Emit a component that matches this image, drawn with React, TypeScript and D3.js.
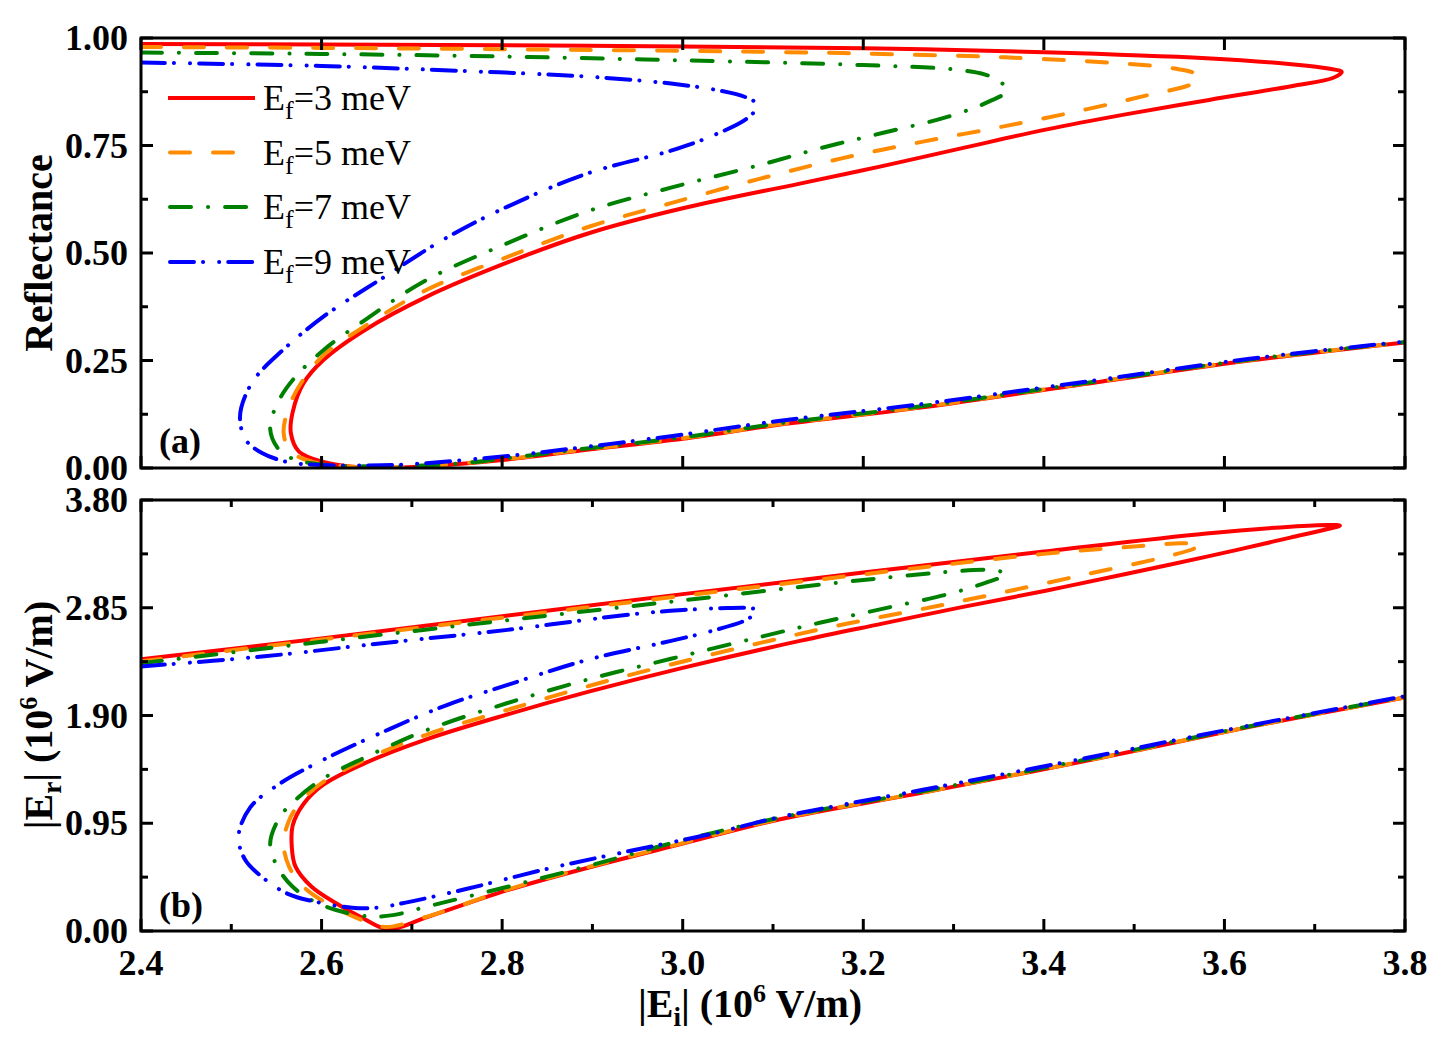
import * as d3 from 'd3';

// tick values
const xTicks = [2.4, 2.6, 2.8, 3.0, 3.2, 3.4, 3.6, 3.8];
const xMinorTicks = [2.5, 2.7, 2.9, 3.1, 3.3, 3.5, 3.7];
const reflTicks = [0, 0.25, 0.5, 0.75, 1.0];
const reflMinorTicks = [0.125, 0.375, 0.625, 0.875];
const erTicks = [0, 0.95, 1.9, 2.85, 3.8];
const erMinorTicks = [0.475, 1.425, 2.375, 3.325];

const fermiLevels = [3, 5, 7, 9]; // meV

// (a) reflectance vs |Ei|, points follow each curve along its path
const reflEf3: [number, number][] = [
  [2.4, 0.986], [2.6, 0.985], [2.8, 0.983], [3.0, 0.98], [3.2, 0.976], [3.4, 0.967],
  [3.58, 0.953], [3.68, 0.938], [3.715, 0.929], [3.73, 0.921], [3.72, 0.907], [3.674, 0.888],
  [3.583, 0.856], [3.492, 0.823], [3.402, 0.787], [3.312, 0.745], [3.221, 0.702], [3.131, 0.662],
  [3.0, 0.604], [2.896, 0.546], [2.806, 0.478], [2.716, 0.398], [2.648, 0.321], [2.602, 0.251],
  [2.58, 0.197], [2.568, 0.13], [2.566, 0.081], [2.575, 0.038], [2.602, 0.014], [2.634, 0.003],
  [2.67, 0.0], [2.716, 0.004], [2.806, 0.02], [2.896, 0.043], [3.0, 0.068], [3.108, 0.101],
  [3.266, 0.141], [3.447, 0.196], [3.628, 0.25], [3.8, 0.292],
];
const reflEf5: [number, number][] = [
  [2.4, 0.979], [2.6, 0.977], [2.8, 0.974], [3.086, 0.968], [3.221, 0.963], [3.357, 0.955],
  [3.492, 0.94], [3.545, 0.929], [3.568, 0.917], [3.572, 0.905], [3.562, 0.891], [3.515, 0.867],
  [3.447, 0.834], [3.357, 0.795], [3.266, 0.759], [3.176, 0.72], [3.086, 0.673], [2.987, 0.616],
  [2.896, 0.561], [2.806, 0.491], [2.716, 0.414], [2.648, 0.33], [2.602, 0.262], [2.578, 0.2],
  [2.564, 0.143], [2.558, 0.081], [2.566, 0.038], [2.589, 0.015], [2.625, 0.004], [2.67, 0.001],
  [2.716, 0.004], [2.806, 0.021], [2.896, 0.044], [3.0, 0.069], [3.108, 0.102], [3.266, 0.142],
  [3.447, 0.197], [3.628, 0.251], [3.8, 0.292],
];
const reflEf7: [number, number][] = [
  [2.4, 0.966], [2.6, 0.963], [2.8, 0.957], [3.0, 0.948], [3.2, 0.937], [3.3, 0.927],
  [3.335, 0.915], [3.352, 0.898], [3.359, 0.877], [3.339, 0.852], [3.294, 0.817], [3.221, 0.779],
  [3.153, 0.744], [3.086, 0.705], [2.987, 0.652], [2.896, 0.598], [2.806, 0.523], [2.716, 0.437],
  [2.648, 0.344], [2.602, 0.274], [2.571, 0.212], [2.553, 0.158], [2.543, 0.093], [2.553, 0.042],
  [2.571, 0.019], [2.589, 0.011], [2.625, 0.005], [2.68, 0.004], [2.75, 0.01], [2.806, 0.023],
  [2.896, 0.046], [3.0, 0.071], [3.108, 0.104], [3.266, 0.144], [3.447, 0.198], [3.628, 0.252],
  [3.8, 0.293],
];
const reflEf9: [number, number][] = [
  [2.4, 0.943], [2.6, 0.935], [2.75, 0.924], [2.896, 0.91], [2.987, 0.894], [3.04, 0.878],
  [3.07, 0.862], [3.083, 0.844], [3.072, 0.814], [3.031, 0.771], [2.987, 0.738], [2.896, 0.686],
  [2.806, 0.608], [2.738, 0.535], [2.67, 0.445], [2.602, 0.352], [2.557, 0.274], [2.525, 0.205],
  [2.511, 0.14], [2.51, 0.105], [2.516, 0.065], [2.534, 0.035], [2.562, 0.014], [2.6, 0.007],
  [2.65, 0.006], [2.7, 0.009], [2.806, 0.028], [2.896, 0.05], [2.987, 0.074], [3.108, 0.11],
  [3.266, 0.149], [3.447, 0.201], [3.628, 0.254], [3.8, 0.294],
];

// (b) |Er| vs |Ei| (10^6 V/m)
const erEf3: [number, number][] = [
  [2.4, 2.395], [2.6, 2.58], [2.8, 2.775], [3.0, 2.97], [3.2, 3.16], [3.4, 3.345],
  [3.58, 3.505], [3.673, 3.565], [3.715, 3.58], [3.728, 3.574], [3.712, 3.54], [3.673, 3.468],
  [3.583, 3.305], [3.492, 3.15], [3.402, 3.0], [3.312, 2.86], [3.221, 2.71], [3.131, 2.56],
  [3.0, 2.32], [2.896, 2.11], [2.806, 1.91], [2.716, 1.69], [2.648, 1.48], [2.602, 1.29],
  [2.58, 1.12], [2.568, 0.93], [2.567, 0.745], [2.571, 0.57], [2.589, 0.39], [2.616, 0.245],
  [2.643, 0.125], [2.674, 0.015], [2.716, 0.12], [2.806, 0.36], [2.896, 0.56], [3.0, 0.77],
  [3.108, 0.985], [3.266, 1.22], [3.447, 1.5], [3.628, 1.8], [3.8, 2.06],
];
const erEf5: [number, number][] = [
  [2.4, 2.378], [2.6, 2.57], [2.8, 2.762], [3.0, 2.955], [3.2, 3.145], [3.4, 3.325],
  [3.5, 3.39], [3.552, 3.418], [3.574, 3.405], [3.566, 3.37], [3.53, 3.29], [3.45, 3.15],
  [3.357, 2.99], [3.266, 2.84], [3.176, 2.7], [3.086, 2.54], [2.987, 2.35], [2.896, 2.16],
  [2.806, 1.95], [2.716, 1.73], [2.648, 1.51], [2.602, 1.315], [2.578, 1.15], [2.564, 0.975],
  [2.558, 0.77], [2.564, 0.567], [2.58, 0.39], [2.606, 0.244], [2.64, 0.112], [2.67, 0.035],
  [2.716, 0.125], [2.806, 0.365], [2.896, 0.565], [3.0, 0.775], [3.108, 0.99], [3.266, 1.222],
  [3.447, 1.502], [3.628, 1.8], [3.8, 2.06],
];
const erEf7: [number, number][] = [
  [2.4, 2.36], [2.6, 2.55], [2.8, 2.735], [3.0, 2.915], [3.2, 3.095], [3.3, 3.17],
  [3.335, 3.184], [3.352, 3.17], [3.358, 3.142], [3.339, 3.08], [3.294, 2.97], [3.221, 2.84],
  [3.153, 2.72], [3.086, 2.593], [2.987, 2.4], [2.896, 2.22], [2.806, 2.01], [2.716, 1.77],
  [2.648, 1.53], [2.602, 1.345], [2.571, 1.155], [2.553, 0.995], [2.543, 0.76], [2.553, 0.54],
  [2.568, 0.39], [2.589, 0.272], [2.616, 0.185], [2.652, 0.128], [2.679, 0.14], [2.716, 0.214],
  [2.806, 0.39], [2.896, 0.575], [3.0, 0.8], [3.108, 1.0], [3.266, 1.232], [3.447, 1.512],
  [3.628, 1.805], [3.8, 2.065],
];
const erEf9: [number, number][] = [
  [2.4, 2.333], [2.534, 2.42], [2.67, 2.54], [2.806, 2.655], [2.941, 2.79], [3.0, 2.83],
  [3.05, 2.848], [3.075, 2.846], [3.083, 2.83], [3.072, 2.75], [3.031, 2.643], [2.987, 2.558],
  [2.896, 2.394], [2.806, 2.17], [2.738, 1.99], [2.67, 1.762], [2.602, 1.51], [2.552, 1.29],
  [2.521, 1.09], [2.508, 0.835], [2.515, 0.633], [2.534, 0.477], [2.562, 0.33], [2.598, 0.25],
  [2.634, 0.205], [2.661, 0.205], [2.693, 0.25], [2.76, 0.37], [2.851, 0.55], [2.941, 0.705],
  [3.031, 0.855], [3.108, 1.005], [3.266, 1.245], [3.447, 1.525], [3.628, 1.812], [3.8, 2.07],
];

const reflData = [reflEf3, reflEf5, reflEf7, reflEf9];
const erData = [erEf3, erEf5, erEf7, erEf9];

const colors = ['#ff0000', '#ff8c00', '#008000', '#0000ff'];
const dashes = ['none', '20,23', '21,17,0.1,17', '24,9,0.1,16,0.1,9'];

const FONT = '"Liberation Serif", "Times New Roman", serif';

const W = 1444;
const H = 1048;
const left = 141;
const right = 1405;
const topA = 38;
const bottomA = 468;
const topB = 500;
const bottomB = 931;

const x = d3.scaleLinear().domain([2.4, 3.8]).range([left, right]);
const yA = d3.scaleLinear().domain([0, 1]).range([bottomA, topA]);
const yB = d3.scaleLinear().domain([0, 3.8]).range([bottomB, topB]);

function Panel({
  y,
  data,
  yTicks,
  yMinor,
  fmt,
  xMinor,
  id,
}: {
  y: d3.ScaleLinear<number, number>;
  data: [number, number][][];
  yTicks: number[];
  yMinor: number[];
  fmt: (v: number) => string;
  xMinor: boolean;
  id: string;
}) {
  const [y0, y1] = y.range();
  const line = d3
    .line<[number, number]>()
    .x((d) => x(d[0]))
    .y((d) => y(d[1]))
    .curve(d3.curveCatmullRom.alpha(0.5));
  const major = 12;
  const minor = 7;
  return (
    <g>
      <defs>
        <clipPath id={id}>
          <rect x={left} y={y1} width={right - left} height={y0 - y1} />
        </clipPath>
      </defs>
      <g clipPath={`url(#${id})`}>
        {data.map((d, i) => (
          <path
            key={i}
            d={line(d) ?? ''}
            fill="none"
            stroke={colors[i]}
            strokeWidth={4}
            strokeDasharray={dashes[i]}
            strokeLinecap={dashes[i] === 'none' ? 'butt' : 'round'}
            strokeLinejoin="round"
          />
        ))}
      </g>
      <g stroke="#000" strokeWidth={3}>
        {xTicks.map((t) => (
          <g key={`x${t}`}>
            <line x1={x(t)} x2={x(t)} y1={y0} y2={y0 - major} />
            <line x1={x(t)} x2={x(t)} y1={y1} y2={y1 + major} />
          </g>
        ))}
        {xMinor &&
          xMinorTicks.map((t) => (
            <g key={`xm${t}`}>
              <line x1={x(t)} x2={x(t)} y1={y0} y2={y0 - minor} />
              <line x1={x(t)} x2={x(t)} y1={y1} y2={y1 + minor} />
            </g>
          ))}
        {yTicks.map((t) => (
          <g key={`y${t}`}>
            <line x1={left} x2={left + major} y1={y(t)} y2={y(t)} />
            <line x1={right} x2={right - major} y1={y(t)} y2={y(t)} />
          </g>
        ))}
        {yMinor.map((t) => (
          <g key={`ym${t}`}>
            <line x1={left} x2={left + minor} y1={y(t)} y2={y(t)} />
            <line x1={right} x2={right - minor} y1={y(t)} y2={y(t)} />
          </g>
        ))}
        <rect x={left} y={y1} width={right - left} height={y0 - y1} fill="none" />
      </g>
      {yTicks.map((t) => (
        <text
          key={`yl${t}`}
          x={128}
          y={y(t) + 12}
          textAnchor="end"
          fontFamily={FONT}
          fontWeight="bold"
          fontSize={36}
        >
          {fmt(t)}
        </text>
      ))}
    </g>
  );
}

export default function App() {
  const legendRows = [98, 152.5, 207, 262];
  return (
    <svg
      width={W}
      height={H}
      style={{ position: 'absolute', left: 0, top: 0, background: '#fff' }}
    >
      <rect width={W} height={H} fill="#fff" />
      <Panel
        y={yA}
        data={reflData}
        yTicks={reflTicks}
        yMinor={reflMinorTicks}
        fmt={(v) => v.toFixed(2)}
        xMinor={false}
        id="clipA"
      />
      <Panel
        y={yB}
        data={erData}
        yTicks={erTicks}
        yMinor={erMinorTicks}
        fmt={(v) => v.toFixed(2)}
        xMinor={true}
        id="clipB"
      />

      {/* x tick labels */}
      {xTicks.map((t) => (
        <text
          key={t}
          x={x(t)}
          y={975}
          textAnchor="middle"
          fontFamily={FONT}
          fontWeight="bold"
          fontSize={36}
        >
          {t.toFixed(1)}
        </text>
      ))}

      {/* legend */}
      {fermiLevels.map((ef, i) => (
        <g key={ef}>
          <line
            x1={i === 0 ? 168 : 170}
            x2={i === 0 ? 255 : 253}
            y1={legendRows[i]}
            y2={legendRows[i]}
            stroke={colors[i]}
            strokeWidth={4}
            strokeDasharray={dashes[i]}
            strokeLinecap={i === 0 ? 'butt' : 'round'}
          />
          <text x={263} y={legendRows[i] + 12} fontFamily={FONT} fontSize={36}>
            E
            <tspan dy={9} fontSize={26}>
              f
            </tspan>
            <tspan dy={-9}>={ef} meV</tspan>
          </text>
        </g>
      ))}

      {/* panel labels */}
      <text x={159} y={453} fontFamily={FONT} fontWeight="bold" fontSize={36}>
        (a)
      </text>
      <text x={159} y={917} fontFamily={FONT} fontWeight="bold" fontSize={36}>
        (b)
      </text>

      {/* axis titles */}
      <text
        transform="translate(52,253) rotate(-90)"
        textAnchor="middle"
        fontFamily={FONT}
        fontWeight="bold"
        fontSize={40}
      >
        Reflectance
      </text>
      <text
        transform="translate(52,715) rotate(-90)"
        textAnchor="middle"
        fontFamily={FONT}
        fontWeight="bold"
        fontSize={40}
      >
        |E
        <tspan dy={9} fontSize={27}>
          r
        </tspan>
        <tspan dy={-9}>| (10</tspan>
        <tspan dy={-15} fontSize={26}>
          6
        </tspan>
        <tspan dy={15}> V/m)</tspan>
      </text>
      <text x={750} y={1017} textAnchor="middle" fontFamily={FONT} fontWeight="bold" fontSize={40}>
        |E
        <tspan dy={9} fontSize={27}>
          i
        </tspan>
        <tspan dy={-9}>| (10</tspan>
        <tspan dy={-15} fontSize={26}>
          6
        </tspan>
        <tspan dy={15}> V/m)</tspan>
      </text>
    </svg>
  );
}
